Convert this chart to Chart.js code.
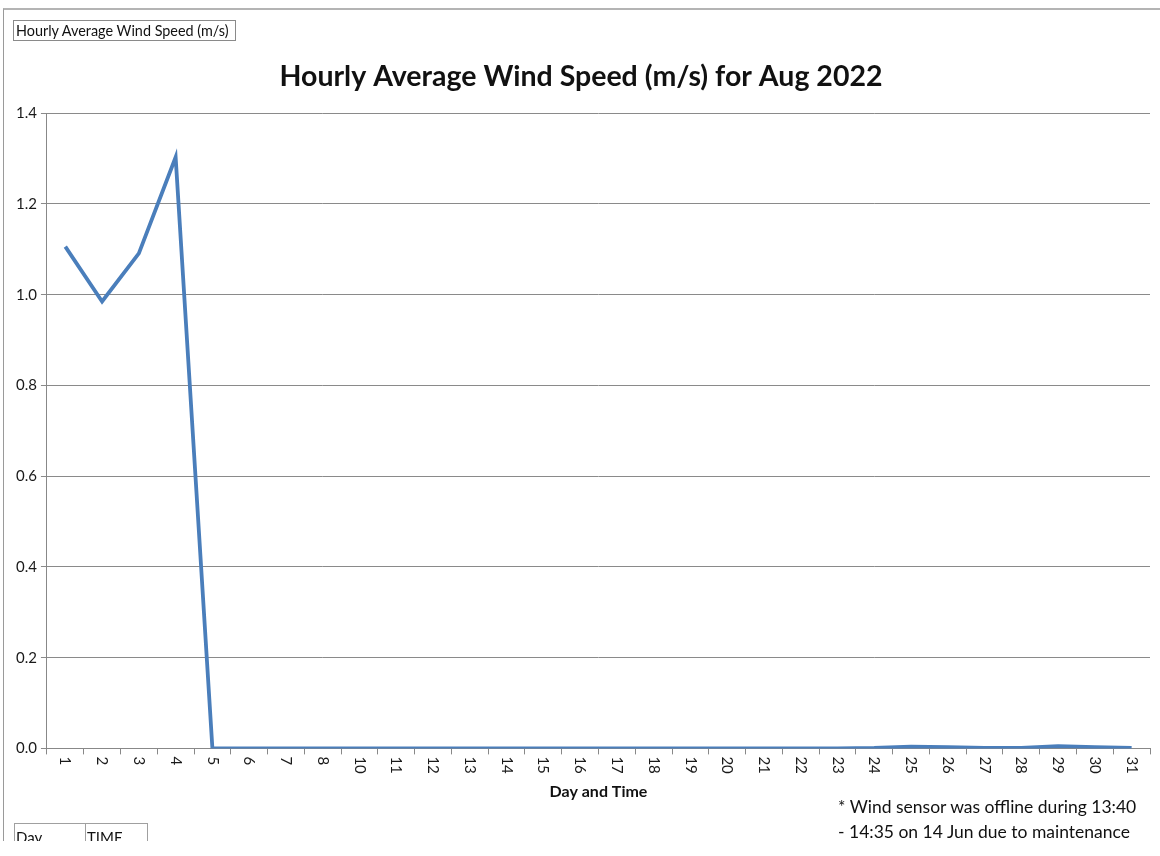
<!DOCTYPE html>
<html>
<head>
<meta charset="utf-8">
<script src="https://cdn.jsdelivr.net/npm/chart.js@4.4.0/dist/chart.umd.min.js"></script>
<style>
    html, body { margin: 0; padding: 0; background: #fff; }
    #page { position: absolute; left: 0; top: 0; width: 1160px; height: 841px; overflow: hidden; }
    #frame { position: absolute; left: 3px; top: 8px; width: 1160px; height: 900px; border-left: 1px solid #9a9a9a; border-top: 2px solid #b4b4b4; }
    #chart { position: absolute; left: 0; top: 0; }
    .box { position: absolute; font-family: Lato, "Open Sans", sans-serif; color: #111; }
    #tag { left: 13px; top: 20px; width: 223px; height: 21px; border: 1px solid #8a8a8a; font-size: 14.4px; line-height: 20px; padding-left: 2px; box-sizing: border-box; white-space: nowrap; }
    #cells { left: 14px; top: 823px; border-collapse: collapse; font-size: 15px; }
    #cells td { border: 1px solid #a0a0a0; height: 22px; padding: 0 1px; vertical-align: bottom; }
    #note { left: 838px; top: 794px; font-size: 17.5px; line-height: 25px; white-space: nowrap; }
</style>
</head>
<body>
<div id="page">
    <div id="frame"></div>
    <canvas id="chart" width="1160" height="856"></canvas>
    <div id="tag" class="box">Hourly Average Wind Speed (m/s)</div>
    <table id="cells" class="box"><tr><td style="width:68px">Day</td><td style="width:59px">TIME</td></tr></table>
    <div id="note" class="box">* Wind sensor was offline during 13:40<br>- 14:35 on 14 Jun due to maintenance</div>
</div>
<script>
    // Day labels (there is no 9 in the source sheet)
    const days = ["1", "2", "3", "4", "5", "6", "7", "8", "10", "11", "12", "13", "14", "15", "16",
        "17", "18", "19", "20", "21", "22", "23", "24", "25", "26", "27", "28", "29", "30", "31"];
    const windSpeed = [1.106, 0.985, 1.091, 1.303, 0.0, 0.0, 0.0, 0.0, 0.0, 0.0, 0.0, 0.0, 0.0, 0.0, 0.0,
        0.0, 0.0, 0.0, 0.0, 0.0, 0.0, 0.0, 0.001, 0.004, 0.003, 0.001, 0.001, 0.005, 0.003, 0.001];
    const yTicks = [0, 0.2, 0.4, 0.6, 0.8, 1.0, 1.2, 1.4];

    const font = "Lato, 'Open Sans', sans-serif";

    // Excel writes the category labels turned clockwise, Chart.js turns them the other way
    const clockwiseLabels = {
        id: "clockwiseLabels",
        afterDraw(chart) {
            const scale = chart.scales.x;
            const ctx = chart.ctx;
            ctx.save();
            ctx.fillStyle = "#1a1a1a";
            ctx.font = "15px " + font;
            ctx.textAlign = "left";
            ctx.textBaseline = "middle";
            scale.ticks.forEach((t, i) => {
                ctx.save();
                ctx.translate(scale.getPixelForTick(i), scale.top + 8);
                ctx.rotate(Math.PI / 2);
                ctx.fillText(days[i], 0, 0);
                ctx.restore();
            });
            ctx.restore();
        }
    };

    new Chart(document.getElementById("chart"), {
        type: "line",
        data: {
            labels: days,
            datasets: [{
                label: "Hourly Average Wind Speed (m/s)",
                data: windSpeed,
                borderColor: "#4a7ebb",
                borderWidth: 3.8,
                pointRadius: 0,
                tension: 0,
                fill: false
            }]
        },
        options: {
            responsive: false,
            animation: false,
            devicePixelRatio: 1,
            layout: { padding: { left: 12, right: 10, top: 60, bottom: 55 } },
            plugins: {
                legend: { display: false },
                tooltip: { enabled: false },
                title: {
                    display: true,
                    text: "Hourly Average Wind Speed (m/s) for Aug 2022",
                    color: "#111",
                    font: { family: font, size: 28.5, weight: "bold" },
                    padding: { top: 0, bottom: 19 }
                }
            },
            scales: {
                x: {
                    offset: true,
                    grid: { offset: true, drawOnChartArea: false, color: "#888", tickLength: 6 },
                    border: { color: "#888" },
                    ticks: { color: "rgba(0,0,0,0)", font: { family: font, size: 15 }, minRotation: 90, maxRotation: 90, autoSkip: false },
                    title: { display: true, text: "Day and Time", color: "#111", font: { family: font, size: 16, weight: "bold" }, padding: { top: 4, bottom: 0 } }
                },
                y: {
                    min: 0,
                    max: 1.4,
                    afterBuildTicks: (s) => { s.ticks = yTicks.map(v => ({ value: v })); },
                    grid: { color: "#8a8a8a", tickLength: 6 },
                    border: { color: "#888" },
                    ticks: { color: "#1a1a1a", font: { family: font, size: 15 }, padding: 4, callback: v => v.toFixed(1) }
                }
            }
        },
        plugins: [clockwiseLabels]
    });
</script>
</body>
</html>
